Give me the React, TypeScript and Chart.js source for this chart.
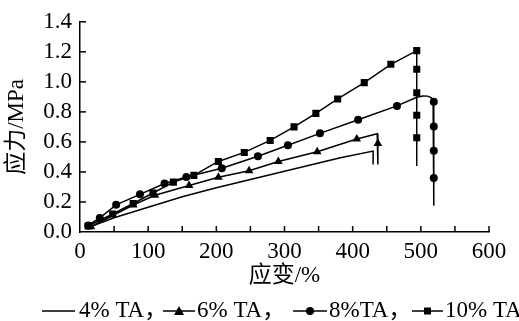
import React, { useEffect, useRef } from "react";
import { Chart, registerables } from "chart.js";

Chart.register(...registerables);

// strain (%) and stress (MPa)
const TA4_X = [12, 50, 100, 150, 200, 250, 300, 350, 382, 430, 430];
const TA4_Y = [0.03, 0.095, 0.165, 0.235, 0.295, 0.35, 0.405, 0.46, 0.495, 0.539, 0.45];

const TA6_X = [16, 48, 78, 110, 160, 203, 248, 291, 348, 406, 436, 437, 437];
const TA6_Y = [0.035, 0.11, 0.18, 0.245, 0.31, 0.364, 0.408, 0.469, 0.535, 0.62, 0.654, 0.589, 0.45];
const TA6_MARK = [true, false, true, true, true, true, true, true, true, true, false, true, false];

const TA8_X = [12, 29, 53, 88, 124, 156, 208, 261, 305, 352, 408, 465, 494, 503, 510, 515, 518, 519, 519, 519, 519, 519];
const TA8_Y = [0.044, 0.094, 0.181, 0.251, 0.323, 0.366, 0.425, 0.504, 0.578, 0.657, 0.748, 0.84, 0.897, 0.906, 0.905, 0.895, 0.88, 0.868, 0.703, 0.541, 0.36, 0.175];
const TA8_MARK = [true, true, true, true, true, true, true, true, true, true, true, true, false, false, false, false, false, true, true, true, true, false];

const TA10_X = [12, 48, 78, 107, 137, 167, 203, 241, 279, 314, 346, 378, 417, 456, 494, 494, 494, 494, 494, 494];
const TA10_Y = [0.04, 0.12, 0.19, 0.26, 0.332, 0.377, 0.47, 0.53, 0.61, 0.7, 0.79, 0.886, 0.995, 1.117, 1.208, 1.084, 0.927, 0.778, 0.628, 0.44];
const TA10_MARK = [true, true, true, true, true, true, true, true, true, true, true, true, true, true, true, true, true, true, true, false];

const LEGEND_LABELS = ["4% TA，", "6% TA，", "8%TA，", "10% TA"];
const X_TITLE = "应变/%";
const Y_TITLE = "应力/MPa";

const FONT = "'Liberation Serif', 'DejaVu Serif', 'Noto Sans CJK SC', serif";

function pts(xs: number[], ys: number[]) {
  return xs.map((x, i) => ({ x, y: ys[i] }));
}

const customPlugin = {
  id: "customDecor",
  afterDraw(chart: any) {
    const ctx = chart.ctx as CanvasRenderingContext2D;
    const xs = chart.scales.x;
    const ys = chart.scales.y;
    const area = chart.chartArea;
    ctx.save();
    ctx.strokeStyle = "#000";
    ctx.lineWidth = 1.5;
    ys.ticks.forEach((t: any) => {
      if (t.value === 0) return;
      const py = ys.getPixelForValue(t.value);
      ctx.beginPath();
      ctx.moveTo(area.left, py);
      ctx.lineTo(area.left + 6, py);
      ctx.stroke();
    });
    xs.ticks.forEach((t: any) => {
      if (t.value === 0) return;
      const px = xs.getPixelForValue(t.value);
      ctx.beginPath();
      ctx.moveTo(px, area.bottom);
      ctx.lineTo(px, area.bottom - 6);
      ctx.stroke();
    });

    // legend
    const ly = 311;
    const items = [
      { x0: 42, x1: 75, tx: 79, mark: "none" },
      { x0: 163, x1: 195, tx: 197, mark: "triangle" },
      { x0: 293, x1: 327, tx: 329, mark: "circle" },
      { x0: 412, x1: 443, tx: 445, mark: "rect" },
    ];
    ctx.font = `23px ${FONT}`;
    ctx.fillStyle = "#000";
    ctx.textBaseline = "middle";
    ctx.textAlign = "left";
    items.forEach((it, i) => {
      ctx.beginPath();
      ctx.moveTo(it.x0, ly);
      ctx.lineTo(it.x1, ly);
      ctx.stroke();
      const cx = (it.x0 + it.x1) / 2;
      ctx.beginPath();
      if (it.mark === "triangle") {
        ctx.moveTo(cx, ly - 5);
        ctx.lineTo(cx + 5, ly + 4);
        ctx.lineTo(cx - 5, ly + 4);
        ctx.closePath();
        ctx.fill();
      } else if (it.mark === "circle") {
        ctx.arc(cx, ly, 4, 0, Math.PI * 2);
        ctx.fill();
      } else if (it.mark === "rect") {
        ctx.rect(cx - 3.5, ly - 3.5, 7, 7);
        ctx.fill();
      }
      ctx.fillText(LEGEND_LABELS[i], it.tx, ly);
    });
    ctx.restore();
  },
};

export default function App() {
  const ref = useRef<HTMLCanvasElement | null>(null);
  useEffect(() => {
    document.body.style.margin = "0";
    const canvas = ref.current;
    if (!canvas) return;
    const markRadius = (marks: boolean[], r: number) => (c: any) => (marks[c.dataIndex] ? r : 0);
    const base = {
      borderColor: "#000",
      backgroundColor: "#000",
      pointBackgroundColor: "#000",
      pointBorderColor: "#000",
      borderWidth: 1.5,
      pointBorderWidth: 0,
      tension: 0,
      fill: false,
      showLine: true,
    };
    const chart = new Chart(canvas, {
      type: "scatter",
      data: {
        datasets: [
          { ...base, label: "4% TA", data: pts(TA4_X, TA4_Y), pointRadius: 0 },
          { ...base, label: "6% TA", data: pts(TA6_X, TA6_Y), pointStyle: "triangle", pointRadius: markRadius(TA6_MARK, 5) },
          { ...base, label: "8%TA", data: pts(TA8_X, TA8_Y), pointStyle: "circle", pointRadius: markRadius(TA8_MARK, 4) },
          { ...base, label: "10% TA", data: pts(TA10_X, TA10_Y), pointStyle: "rect", pointRadius: markRadius(TA10_MARK, 5) },
        ] as any,
      },
      options: {
        responsive: false,
        animation: false,
        events: [],
        layout: { padding: { left: 3.6, right: 30, top: 17, bottom: 31.6 } },
        plugins: { legend: { display: false }, tooltip: { enabled: false } },
        scales: {
          x: {
            type: "linear",
            min: 0,
            max: 600,
            grid: { display: false, drawTicks: false },
            border: { display: true, color: "#000", width: 1.5 },
            ticks: {
              stepSize: 50,
              autoSkip: false,
              maxRotation: 0,
              padding: 6,
              color: "#000",
              font: { family: FONT, size: 23 },
              callback: (v: any) => (Number(v) % 100 === 0 ? String(v) : ""),
            },
            title: {
              display: true,
              text: X_TITLE,
              color: "#000",
              padding: 0,
              font: { family: FONT, size: 23, lineHeight: 1.2 },
            },
            afterFit: (s: any) => {
              s.height = 57.4;
            },
          },
          y: {
            type: "linear",
            min: 0,
            max: 1.4,
            grid: { display: false, drawTicks: false },
            border: { display: true, color: "#000", width: 1.5 },
            ticks: {
              stepSize: 0.2,
              autoSkip: false,
              padding: 8,
              color: "#000",
              font: { family: FONT, size: 23 },
              callback: (v: any) => Number(v).toFixed(1),
            },
            title: {
              display: true,
              text: Y_TITLE,
              color: "#000",
              padding: 0,
              font: { family: FONT, size: 23, lineHeight: 1.2 },
            },
            afterFit: (s: any) => {
              s.width = 76.4;
            },
          },
        },
      } as any,
      plugins: [customPlugin],
    });
    return () => chart.destroy();
  }, []);
  return (
    <div style={{ width: 519, height: 321 }}>
      <canvas ref={ref} width={519} height={321} style={{ display: "block" }} />
    </div>
  );
}
